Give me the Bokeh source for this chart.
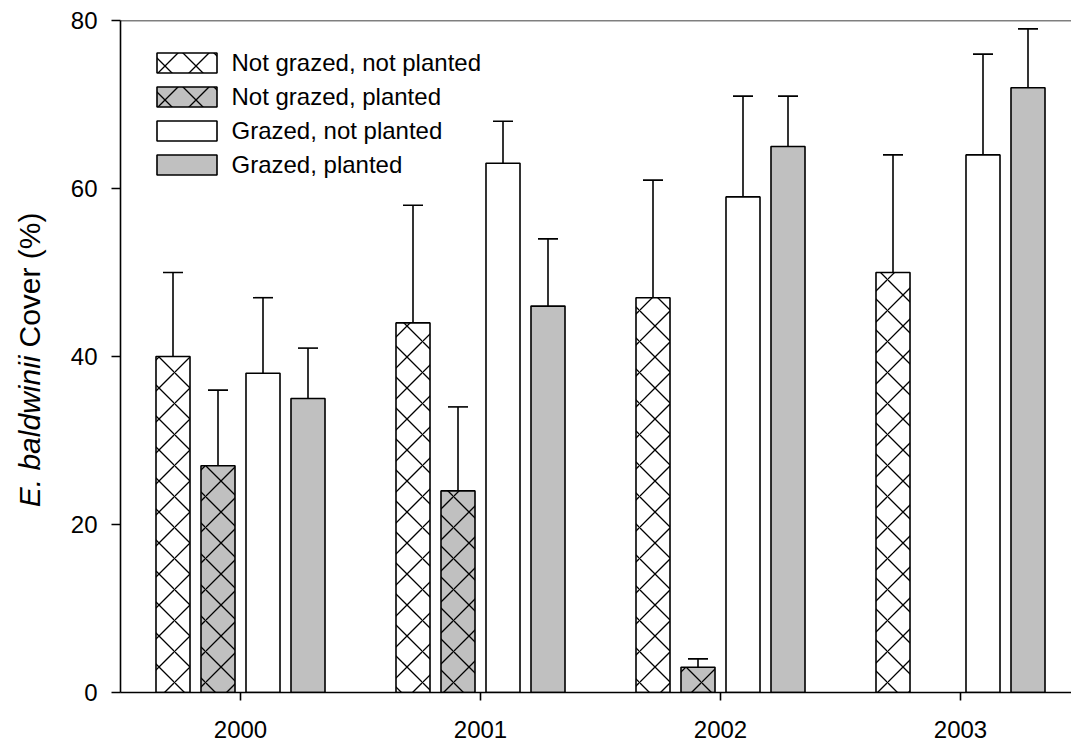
import numpy as np
from bokeh.plotting import figure
from bokeh.layouts import row, column
from bokeh.models import (ColumnDataSource, Range1d, FixedTicker, Whisker, TeeHead,
                          Legend, LegendItem, Span, Title)
from bokeh.embed import file_html
from bokeh.resources import INLINE

# ---- data ----
years = ["2000", "2001", "2002", "2003"]
series = ["Not grazed, not planted", "Not grazed, planted",
          "Grazed, not planted", "Grazed, planted"]
ngnp = [40, 44, 47, 50]
ngnp_upper = [50, 58, 61, 64]
ngp = [27, 24, 3, np.nan]
ngp_upper = [36, 34, 4, np.nan]
gnp = [38, 63, 59, 64]
gnp_upper = [47, 68, 71, 76]
gp = [35, 46, 65, 72]
gp_upper = [41, 54, 71, 79]
y_title_italic = "E. baldwinii"
y_title_rest = "Cover (%)"

values = [ngnp, ngp, gnp, gp]
uppers = [ngnp_upper, ngp_upper, gnp_upper, gp_upper]
fills = ["white", "#c0c0c0", "white", "#c0c0c0"]
hatches = ["x", "x", " ", " "]

FONT = "Liberation Sans"
BAR_W = 0.1417
STEP = 0.1875
H = 749
LEFT_W = 50
SPLIT = 351
LBL_SIZE = "30px"


def title_strip(height, text, align, style):
    t = Title(text=text, align=align, offset=4, standoff=0, vertical_align="bottom",
              text_font=FONT, text_font_size=LBL_SIZE, text_font_style=style,
              text_color="black")
    f = figure(width=LEFT_W, height=height, output_backend="svg", toolbar_location=None,
               title=t, title_location="left", x_axis_type=None, y_axis_type=None,
               min_border_left=LEFT_W - 5, min_border_right=0, min_border_top=0,
               min_border_bottom=0)
    f.outline_line_color = None
    f.background_fill_color = "white"
    f.border_fill_color = "white"
    return f


# mixed-style y-axis title: upright part on top, italic part below
strip_top = title_strip(SPLIT, y_title_rest, "left", "normal")
strip_bot = title_strip(H - SPLIT, y_title_italic, "right", "italic")

# ---- main chart ----
p = figure(width=1071 - LEFT_W, height=H, output_backend="svg", toolbar_location=None,
           x_range=Range1d(-0.5, 3.4625), y_range=Range1d(0, 80),
           min_border_left=120 - LEFT_W, min_border_right=0, min_border_top=20,
           min_border_bottom=57)
p.background_fill_color = "white"
p.border_fill_color = "white"
p.outline_line_color = None
p.grid.visible = False

renderers = []
idx = np.arange(len(years))
for i in range(4):
    v = np.array(values[i], dtype=float)
    u = np.array(uppers[i], dtype=float)
    ok = ~np.isnan(v)
    src = ColumnDataSource(dict(x=(idx + (i - 1.5) * STEP)[ok], top=v[ok], upper=u[ok]))
    r = p.vbar(x="x", top="top", bottom=0, width=BAR_W, source=src,
               fill_color=fills[i], line_color="black", line_width=1.6,
               hatch_pattern=hatches[i], hatch_color="black", hatch_scale=31,
               hatch_weight=1.3)
    renderers.append(r)
    w = Whisker(source=src, base="x", lower="top", upper="upper",
                lower_head=None,
                upper_head=TeeHead(size=20, line_width=1.6, line_color="black"),
                line_width=1.6, line_color="black")
    p.add_layout(w)

# top border line
p.add_layout(Span(location=80, dimension="width", line_color="black", line_width=1.6))

# axes
p.xaxis.ticker = FixedTicker(ticks=list(idx))
p.xaxis.major_label_overrides = {int(k): years[k] for k in idx}
p.yaxis.ticker = FixedTicker(ticks=[0, 20, 40, 60, 80])
for ax in (p.xaxis, p.yaxis):
    ax.axis_line_width = 1.6
    ax.axis_line_color = "black"
    ax.major_tick_line_width = 1.6
    ax.major_tick_line_color = "black"
    ax.major_tick_in = 0
    ax.minor_tick_line_color = None
    ax.major_label_text_font = FONT
    ax.major_label_text_font_size = "24px"
    ax.major_label_text_color = "black"
p.xaxis.major_tick_out = 8
p.xaxis.major_label_standoff = 20
p.yaxis.major_tick_out = 9
p.yaxis.major_label_standoff = 14

legend = Legend(items=[LegendItem(label=series[i], renderers=[renderers[i]]) for i in range(4)],
                location=(28.5, 513.5), margin=0, padding=0, spacing=6,
                glyph_width=75, glyph_height=25, label_height=20, label_standoff=8,
                label_text_font=FONT, label_text_font_size="24px",
                label_text_color="black", border_line_color=None,
                background_fill_alpha=0)
p.add_layout(legend)

layout = row(column(strip_top, strip_bot, spacing=0), p, spacing=0)
open("out.html", "w").write(file_html(layout, INLINE))
